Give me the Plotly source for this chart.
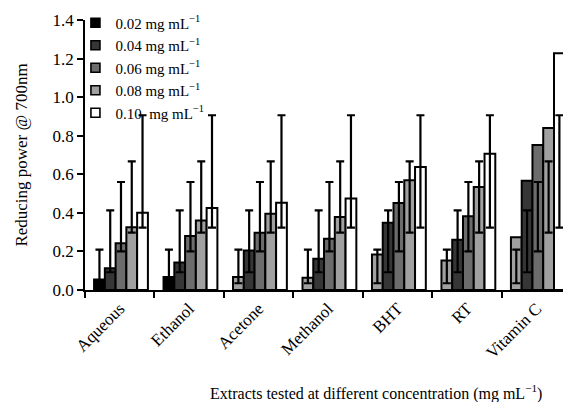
import numpy as np
import plotly.graph_objects as go

categories = ["Aqueous", "Ethanol", "Acetone", "Methanol", "BHT", "RT", "Vitamin C"]
series_names = [
    "0.02 mg mL<sup>−1</sup>",
    "0.04 mg mL<sup>−1</sup>",
    "0.06 mg mL<sup>−1</sup>",
    "0.08 mg mL<sup>−1</sup>",
    "0.10  mg mL<sup>−1</sup>",
]
c002 = [0.055, 0.067, 0.067, 0.063, 0.184, 0.153, 0.274]
c004 = [0.113, 0.143, 0.205, 0.162, 0.349, 0.261, 0.567]
c006 = [0.243, 0.280, 0.297, 0.266, 0.451, 0.382, 0.752]
c008 = [0.326, 0.360, 0.396, 0.378, 0.569, 0.534, 0.840]
c010 = [0.400, 0.425, 0.453, 0.474, 0.638, 0.707, 1.227]
series_values = [c002, c004, c006, c008, c010]

# error ranges (low, high) per concentration
err_low = [0.035, 0.092, 0.200, 0.297, 0.323]
err_high = [0.209, 0.413, 0.560, 0.667, 0.906]

# styles
series_colors = [
    ["#000000", "#000000", "#a0a0a0", "#a0a0a0", "#a0a0a0", "#a0a0a0", "#a0a0a0"],
    "#363636",
    "#6c6c6c",
    "#a0a0a0",
    "#ffffff",
]
legend_colors = ["#000000", "#363636", "#6c6c6c", "#a0a0a0", "#ffffff"]

FONT = "Liberation Serif, Times New Roman, serif"
n = len(series_values)
bar_w = 0.155
idx = np.arange(len(categories))

fig = go.Figure()
for j, (name, vals) in enumerate(zip(series_names, series_values)):
    xs = idx + (j - (n - 1) / 2) * bar_w + 0.018
    fig.add_bar(
        x=xs, y=vals, width=bar_w, name=name, showlegend=False,
        marker=dict(color=series_colors[j], line=dict(color="black", width=2)),
    )
for j in range(n):
    xs = idx + (j - (n - 1) / 2) * bar_w + 0.018
    mid = (err_low[j] + err_high[j]) / 2
    half = (err_high[j] - err_low[j]) / 2
    fig.add_scatter(
        x=xs, y=[mid] * len(categories), mode="markers",
        marker=dict(size=1, color="rgba(0,0,0,0)"),
        error_y=dict(type="data", array=[half] * len(categories), width=4,
                     thickness=2.2, color="black"),
        showlegend=False, hoverinfo="skip",
    )
# legend entries
for j, name in enumerate(series_names):
    fig.add_scatter(
        x=[None], y=[None], mode="markers", name=name,
        marker=dict(symbol="square", size=9, color=legend_colors[j],
                    line=dict(color="black", width=1.6)),
    )

fig.update_layout(
    width=563, height=402,
    margin=dict(l=85, r=0, t=20, b=112),
    paper_bgcolor="white", plot_bgcolor="white",
    barmode="overlay",
    font=dict(family=FONT, size=17, color="black"),
    showlegend=True,
    legend=dict(x=-0.02, y=1.05, xanchor="left", yanchor="top",
                bgcolor="rgba(0,0,0,0)", font=dict(size=15),
                tracegroupgap=0, itemwidth=30),
    xaxis=dict(
        range=[-0.5, 6.38], tickmode="array", tickvals=idx, ticktext=categories,
        ticks="", tickangle=-45, showline=True, linecolor="black", linewidth=2,
        showgrid=False, zeroline=False, tickfont=dict(size=17),
        minor=dict(tickmode="array", tickvals=list(idx - 0.5) + [idx[-1] + 0.5],
                   ticks="outside", ticklen=6, tickwidth=2, tickcolor="black",
                   showgrid=False),
    ),
    yaxis=dict(
        range=[0, 1.4], dtick=0.2, tickformat=".1f", ticks="outside", ticklen=6,
        tickwidth=1.5, tickcolor="black", showline=True, linecolor="black",
        linewidth=1.5, showgrid=False, zeroline=False, tickfont=dict(size=17),
        title=dict(text="Reducing power @ 700nm", font=dict(size=17), standoff=21),
    ),
    annotations=[dict(
        text="Extracts tested at different concentration (mg mL<sup>−1</sup>)",
        xref="paper", yref="paper", x=0.609, y=-0.38, xanchor="center",
        yanchor="middle", showarrow=False, font=dict(size=16),
    )],
)

fig.write_html("out.html", config={"displayModeBar": False},
               post_script="document.body.style.margin='0px';")
